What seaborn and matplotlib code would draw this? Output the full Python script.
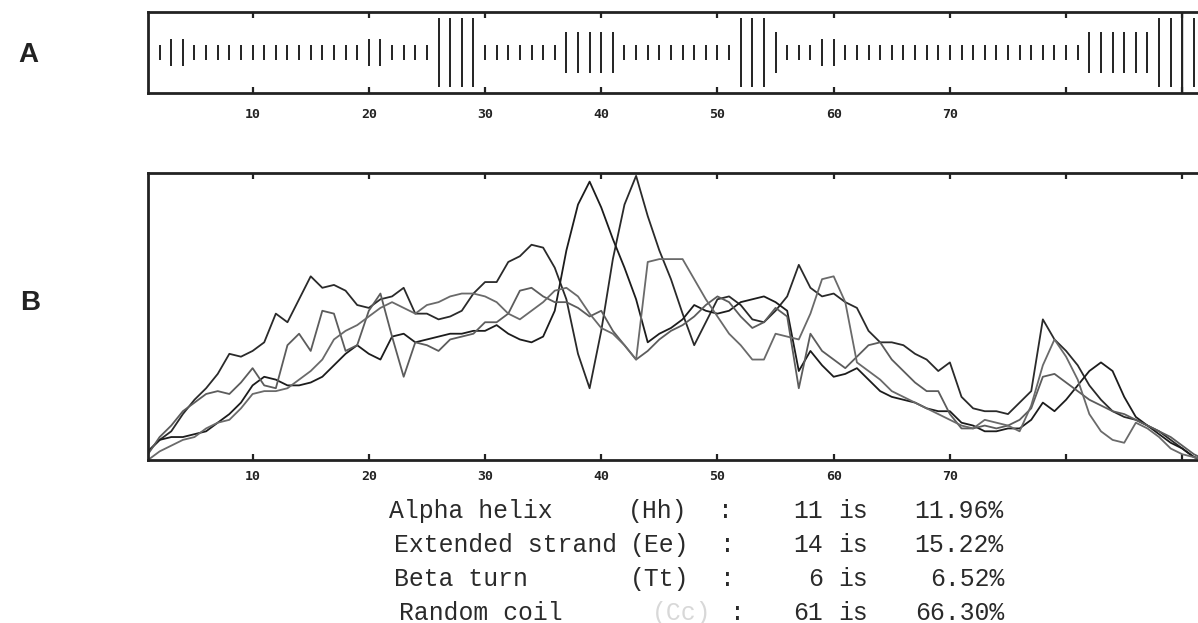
import numpy as np
import pandas as pd
import matplotlib
matplotlib.use("Agg")
import matplotlib.pyplot as plt
import seaborn as sns

sns.set_theme(style="white")

# secondary structure per residue (panel A), as runs of (state, length)
ss_runs = [("E", 1), ("C", 1), ("T", 2), ("C", 15), ("T", 2), ("C", 4), ("H", 4),
           ("C", 7), ("E", 5), ("C", 10), ("H", 3), ("E", 1), ("C", 3), ("T", 2),
           ("C", 21), ("E", 6), ("H", 4), ("E", 1)]
bar_half = {"H": 0.42, "E": 0.257, "T": 0.17, "C": 0.093}

# score curves (panel B), one value per residue 1..92
line_a = [.03, .07, .10, .16, .21, .25, .30, .37, .36, .38,
          .41, .51, .48, .56, .64, .60, .61, .59, .54, .53,
          .56, .57, .60, .51, .51, .49, .50, .52, .58, .62,
          .62, .69, .71, .75, .74, .67, .56, .37, .25, .45,
          .70, .89, .99, .85, .73, .63, .51, .40, .48, .56,
          .57, .54, .49, .48, .52, .57, .68, .60, .57, .58,
          .55, .53, .45, .41, .41, .40, .37, .35, .31, .34,
          .22, .18, .17, .17, .16, .20, .24, .49, .42, .38,
          .33, .26, .21, .17, .15, .14, .12, .10, .07, .04,
          .01, .00]
line_b = [.03, .07, .08, .08, .09, .10, .13, .16, .20, .26,
          .29, .28, .26, .26, .27, .29, .33, .37, .40, .37,
          .35, .43, .44, .41, .42, .43, .44, .44, .45, .45,
          .47, .44, .42, .41, .43, .52, .73, .89, .97, .88,
          .77, .67, .56, .41, .44, .46, .49, .54, .52, .51,
          .52, .55, .56, .57, .55, .52, .31, .38, .33, .29,
          .30, .32, .28, .24, .22, .21, .20, .18, .17, .17,
          .13, .12, .10, .10, .11, .11, .14, .20, .17, .21,
          .26, .31, .34, .31, .22, .15, .12, .09, .06, .04,
          .01, .00]
line_c = [.02, .08, .12, .17, .20, .23, .24, .23, .27, .32,
          .26, .25, .40, .44, .38, .52, .51, .38, .40, .52,
          .58, .43, .29, .41, .40, .38, .42, .43, .44, .48,
          .48, .51, .59, .60, .57, .55, .55, .53, .50, .52,
          .45, .40, .35, .38, .42, .45, .47, .50, .54, .57,
          .55, .50, .46, .48, .53, .50, .25, .44, .38, .35,
          .32, .36, .40, .41, .35, .31, .27, .24, .24, .16,
          .11, .11, .12, .11, .12, .14, .18, .29, .30, .27,
          .24, .21, .19, .17, .16, .14, .12, .10, .08, .05,
          .02, .00]
line_d = [.00, .03, .05, .07, .08, .11, .13, .14, .18, .23,
          .24, .24, .25, .28, .31, .35, .42, .45, .47, .50,
          .53, .55, .53, .51, .54, .55, .57, .58, .58, .57,
          .55, .51, .49, .52, .55, .59, .60, .57, .51, .46,
          .44, .40, .35, .69, .70, .70, .70, .63, .56, .50,
          .44, .40, .35, .35, .44, .43, .42, .51, .63, .64,
          .55, .34, .31, .28, .24, .22, .20, .18, .16, .14,
          .12, .11, .14, .13, .12, .10, .19, .33, .42, .36,
          .28, .16, .10, .07, .06, .13, .11, .08, .04, .02,
          .01, .00]
line_names = ["a", "b", "c", "d"]
line_colors = ["#2a2a2a", "#1c1c1c", "#5c5c5c", "#6a6a6a"]

tick_pos = [10, 20, 30, 40, 50, 60, 70, 80, 90]
tick_lab = ["10", "20", "30", "40", "50", "60", "70", "", ""]

# summary table below panel B
stat_labels = ["Alpha helix", "Extended strand", "Beta turn", "Random coil"]
stat_codes = ["(Hh)", "(Ee)", "(Tt)", "(Cc)"]
stat_counts = ["11", "14", "6", "61"]
stat_pcts = ["11.96%", "15.22%", "6.52%", "66.30%"]
code_colors = ["#2a2a2a", "#2a2a2a", "#2a2a2a", "#d8d8d8"]

states = "".join(s * n for s, n in ss_runs)
residues = np.arange(1, len(states) + 1)
n_res = len(line_a)
df = pd.DataFrame({
    "residue": np.tile(np.arange(1, n_res + 1), 4),
    "score": line_a + line_b + line_c + line_d,
    "curve": np.repeat(line_names, n_res),
})

W, H = 1198, 623
fig = plt.figure(figsize=(W / 100, H / 100), dpi=100)
ax_a = fig.add_axes([148 / W, 1 - 93 / H, (W - 148) / W, 81 / H])
ax_b = fig.add_axes([148 / W, 1 - 460 / H, (W - 148) / W, 287 / H])

xlim = (1, 91.35)

# panel A: bars
half = np.array([bar_half[s] for s in states])
ax_a.vlines(residues, 0.5 - half, 0.5 + half, color="#222222", lw=1.4)
ax_a.axvline(tick_pos[-1], color="#222222", lw=1.0)
ax_a.set_ylim(0, 1)

# panel B: curves
sns.lineplot(data=df, x="residue", y="score", hue="curve", palette=line_colors,
             linewidth=1.3, legend=False, ax=ax_b)
ax_b.set_ylim(0, 1)

for ax, pad in [(ax_a, 11), (ax_b, 7)]:
    ax.set_xlim(*xlim)
    ax.set_xlabel("")
    ax.set_ylabel("")
    ax.set_yticks([])
    ax.set_xticks(tick_pos)
    ax.set_xticklabels(tick_lab, fontfamily="DejaVu Sans Mono", fontweight="bold",
                       fontsize=9.5, color="#222222")
    ax.tick_params(axis="x", direction="in", top=True, bottom=True, length=4,
                   width=1.6, color="#222222", pad=pad)
    for side in ["left", "top", "bottom"]:
        ax.spines[side].set_visible(True)
        ax.spines[side].set_color("#222222")
        ax.spines[side].set_linewidth(2.0)
    ax.spines["right"].set_visible(False)

fig.text(28 / W, 1 - 55 / H, "A", fontsize=20, fontweight="bold",
         family="Liberation Sans", ha="center", va="center", color="#222222")
fig.text(30 / W, 1 - 303 / H, "B", fontsize=20, fontweight="bold",
         family="Liberation Sans", ha="center", va="center", color="#222222")

fs = 17.8
row_y = [511, 545, 579, 613]
label_x = [389, 394, 394, 399]
code_x = [628, 630, 630, 652]
colon_x = [718, 720, 720, 730]
kw = dict(family="Liberation Mono", fontsize=fs, va="center")
for i in range(4):
    yy = 1 - row_y[i] / H
    fig.text(label_x[i] / W, yy, stat_labels[i], ha="left", color="#2a2a2a", **kw)
    fig.text(code_x[i] / W, yy, stat_codes[i], ha="left", color=code_colors[i], **kw)
    fig.text(colon_x[i] / W, yy, ":", ha="left", color="#2a2a2a", **kw)
    fig.text(823 / W, yy, stat_counts[i], ha="right", color="#2a2a2a", **kw)
    fig.text(838 / W, yy, "is", ha="left", color="#2a2a2a", **kw)
    fig.text(1004 / W, yy, stat_pcts[i], ha="right", color="#2a2a2a", **kw)

fig.savefig("out.png", dpi=100)
